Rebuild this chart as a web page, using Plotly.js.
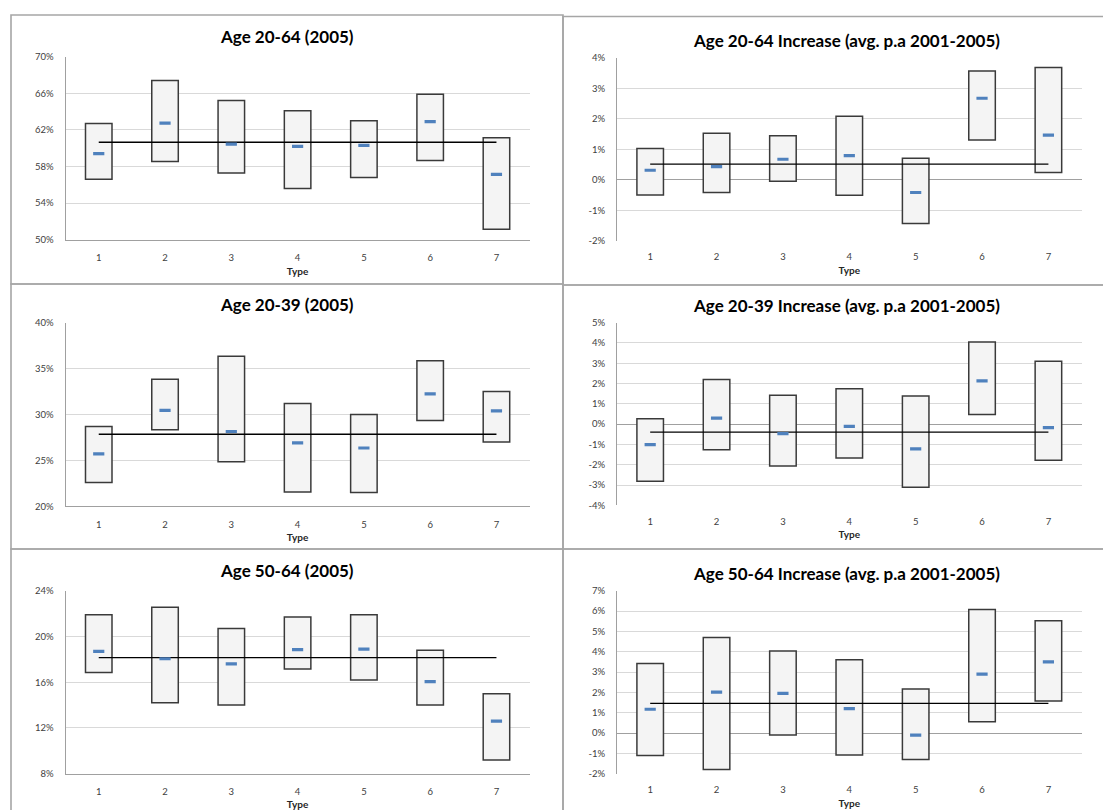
<!DOCTYPE html>
<html>
<head>
<meta charset="utf-8">
<script src="https://cdn.plot.ly/plotly-3.0.1.min.js"></script>
<style>
  html, body { margin: 0; padding: 0; background: #ffffff; }
  #chart { width: 1103px; height: 810px; }
</style>
</head>
<body>
<div id="chart"></div>
<script>
// ---------- DATA (values in %) ----------
const types = [1, 2, 3, 4, 5, 6, 7];

const titles = [
  "Age 20-64 (2005)",
  "Age 20-64 Increase (avg. p.a 2001-2005)",
  "Age 20-39 (2005)",
  "Age 20-39 Increase (avg. p.a 2001-2005)",
  "Age 50-64 (2005)",
  "Age 50-64 Increase (avg. p.a 2001-2005)"
];

// Age 20-64 (2005)
const a2064_high = [62.7, 67.4, 65.2, 64.1, 63.0, 65.9, 61.15];
const a2064_low  = [56.6, 58.55, 57.3, 55.6, 56.8, 58.65, 51.15];
const a2064_mean = [59.4, 62.75, 60.45, 60.2, 60.3, 62.9, 57.15];
const a2064_avg  = 60.65;

// Age 20-64 Increase
const i2064_high = [1.02, 1.52, 1.44, 2.08, 0.70, 3.56, 3.68];
const i2064_low  = [-0.50, -0.42, -0.05, -0.51, -1.44, 1.30, 0.24];
const i2064_mean = [0.31, 0.43, 0.67, 0.79, -0.42, 2.67, 1.46];
const i2064_avg  = 0.51;

// Age 20-39 (2005)
const a2039_high = [28.7, 33.85, 36.35, 31.2, 30.0, 35.85, 32.5];
const a2039_low  = [22.6, 28.35, 24.85, 21.55, 21.5, 29.35, 27.0];
const a2039_mean = [25.7, 30.45, 28.15, 26.9, 26.35, 32.25, 30.4];
const a2039_avg  = 27.85;

// Age 20-39 Increase
const i2039_high = [0.27, 2.2, 1.42, 1.75, 1.39, 4.05, 3.1];
const i2039_low  = [-2.82, -1.26, -2.06, -1.67, -3.11, 0.47, -1.78];
const i2039_mean = [-1.01, 0.30, -0.47, -0.11, -1.22, 2.13, -0.17];
const i2039_avg  = -0.39;

// Age 50-64 (2005)
const a5064_high = [21.9, 22.55, 20.7, 21.7, 21.9, 18.8, 15.0];
const a5064_low  = [16.85, 14.2, 14.0, 17.15, 16.2, 14.0, 9.2];
const a5064_mean = [18.7, 18.05, 17.6, 18.85, 18.9, 16.05, 12.6];
const a5064_avg  = 18.15;

// Age 50-64 Increase
const i5064_high = [3.42, 4.70, 4.03, 3.61, 2.16, 6.08, 5.52];
const i5064_low  = [-1.11, -1.79, -0.10, -1.08, -1.30, 0.56, 1.57];
const i5064_mean = [1.17, 2.01, 1.95, 1.20, -0.10, 2.90, 3.50];
const i5064_avg  = 1.46;

// Tick values / labels
const ticks1_vals = [50, 54, 58, 62, 66, 70];
const ticks1_text = ["50%", "54%", "58%", "62%", "66%", "70%"];
const ticks2_vals = [-2, -1, 0, 1, 2, 3, 4];
const ticks2_text = ["-2%", "-1%", "0%", "1%", "2%", "3%", "4%"];
const ticks3_vals = [20, 25, 30, 35, 40];
const ticks3_text = ["20%", "25%", "30%", "35%", "40%"];
const ticks4_vals = [-4, -3, -2, -1, 0, 1, 2, 3, 4, 5];
const ticks4_text = ["-4%", "-3%", "-2%", "-1%", "0%", "1%", "2%", "3%", "4%", "5%"];
const ticks5_vals = [8, 12, 16, 20, 24];
const ticks5_text = ["8%", "12%", "16%", "20%", "24%"];
const ticks6_vals = [-2, -1, 0, 1, 2, 3, 4, 5, 6, 7];
const ticks6_text = ["-2%", "-1%", "0%", "1%", "2%", "3%", "4%", "5%", "6%", "7%"];

const xAxisTitle = "Type";

// ---------- LAYOUT HELPERS ----------
const W = 1103, H = 810;
const fx = p => p / W;
const fy = p => 1 - p / H;
const FONT = "Lato, 'Open Sans', sans-serif";

const panels = [
  {high: a2064_high, low: a2064_low, mean: a2064_mean, avg: a2064_avg, tv: ticks1_vals, tt: ticks1_text,
   range: [50, 70], zero: false, plot: [65.6, 529.6, 56.7, 239.7], title: [287, 36.7]},
  {high: i2064_high, low: i2064_low, mean: i2064_mean, avg: i2064_avg, tv: ticks2_vals, tt: ticks2_text,
   range: [-2, 4], zero: true, plot: [617, 1081.6, 57.7, 240.7], title: [846.5, 40]},
  {high: a2039_high, low: a2039_low, mean: a2039_mean, avg: a2039_avg, tv: ticks3_vals, tt: ticks3_text,
   range: [20, 40], zero: false, plot: [65.6, 529.6, 322.7, 506.3], title: [287, 304.3]},
  {high: i2039_high, low: i2039_low, mean: i2039_mean, avg: i2039_avg, tv: ticks4_vals, tt: ticks4_text,
   range: [-4, 5], zero: true, plot: [617, 1081.6, 322.7, 505.3], title: [846.5, 305]},
  {high: a5064_high, low: a5064_low, mean: a5064_mean, avg: a5064_avg, tv: ticks5_vals, tt: ticks5_text,
   range: [8, 24], zero: false, plot: [65.6, 529.6, 590.7, 773.7], title: [287, 570.7]},
  {high: i5064_high, low: i5064_low, mean: i5064_mean, avg: i5064_avg, tv: ticks6_vals, tt: ticks6_text,
   range: [-2, 7], zero: true, plot: [617, 1081.6, 590.7, 773.7], title: [846.5, 573.3]}
];

const data = [];
const layout = {
  width: W, height: H,
  margin: {l: 0, r: 0, t: 0, b: 0},
  paper_bgcolor: "#ffffff",
  plot_bgcolor: "#ffffff",
  showlegend: false,
  barmode: "overlay",
  font: {family: FONT, color: "#404040", size: 10},
  annotations: [],
  shapes: []
};

panels.forEach((p, i) => {
  const n = i + 1;
  const xa = n === 1 ? "x" : "x" + n;
  const ya = n === 1 ? "y" : "y" + n;
  const xkey = n === 1 ? "xaxis" : "xaxis" + n;
  const ykey = n === 1 ? "yaxis" : "yaxis" + n;

  // floating boxes (low -> high)
  data.push({
    type: "bar", x: types,
    y: p.high.map((h, k) => h - p.low[k]),
    base: p.low,
    width: 0.4,
    xaxis: xa, yaxis: ya,
    marker: {color: "#f4f4f4", line: {color: "#3a3a3a", width: 1.5}},
    hoverinfo: "skip"
  });
  // overall average line
  data.push({
    type: "scatter", mode: "lines",
    x: [types[0], types[types.length - 1]],
    y: [p.avg, p.avg],
    xaxis: xa, yaxis: ya,
    line: {color: "#000000", width: 1.3},
    hoverinfo: "skip"
  });
  // mean markers
  data.push({
    type: "scatter", mode: "markers",
    x: types, y: p.mean,
    xaxis: xa, yaxis: ya,
    marker: {symbol: "line-ew", size: 8, color: "#4f81bd", line: {color: "#4f81bd", width: 3.2}},
    hoverinfo: "skip"
  });

  const [l, r, t, b] = p.plot;
  layout[xkey] = {
    domain: [fx(l), fx(r)],
    anchor: ya,
    range: [0.5, 7.5],
    tickmode: "array", tickvals: types, ticktext: types.map(String),
    showgrid: false, zeroline: false,
    showline: !p.zero, linecolor: "#a0a0a0", linewidth: 1,
    ticks: "", ticklabelstandoff: 9,
    tickfont: {family: FONT, size: 9.5, color: "#404040"},
    title: {text: xAxisTitle, standoff: 5, font: {family: FONT, size: 10, color: "#262626", weight: "bold"}},
    fixedrange: true
  };
  layout[ykey] = {
    domain: [fy(b), fy(t)],
    anchor: xa,
    range: p.range,
    tickmode: "array", tickvals: p.tv, ticktext: p.tt,
    showgrid: true, gridcolor: "#d9d9d9", gridwidth: 1,
    zeroline: p.zero, zerolinecolor: "#a0a0a0", zerolinewidth: 1,
    showline: true, linecolor: "#a0a0a0", linewidth: 1,
    ticks: "", ticklabelstandoff: 9,
    tickfont: {family: FONT, size: 9.5, color: "#404040"},
    fixedrange: true
  };

  layout.annotations.push({
    xref: "paper", yref: "paper",
    x: fx(p.title[0]), y: fy(p.title[1]),
    xanchor: "center", yanchor: "middle",
    text: "<b>" + titles[i] + "</b>", showarrow: false,
    font: {family: FONT, size: 17, color: "#000000"}
  });
});

// chart-area borders
const borders = [
  [11, 563, 15, 284], [563, 1115, 16.5, 285],
  [11, 563, 284, 549], [563, 1115, 285, 549],
  [11, 563, 549, 830], [563, 1115, 549, 830]
];
borders.forEach(([x0, x1, y0, y1]) => {
  layout.shapes.push({
    type: "rect", xref: "paper", yref: "paper",
    x0: fx(x0), x1: fx(x1), y0: fy(y1), y1: fy(y0),
    line: {color: "#a6a6a6", width: 1.6}, fillcolor: "rgba(0,0,0,0)", layer: "above"
  });
});

Plotly.newPlot("chart", data, layout, {staticPlot: true, displayModeBar: false});
</script>
</body>
</html>
